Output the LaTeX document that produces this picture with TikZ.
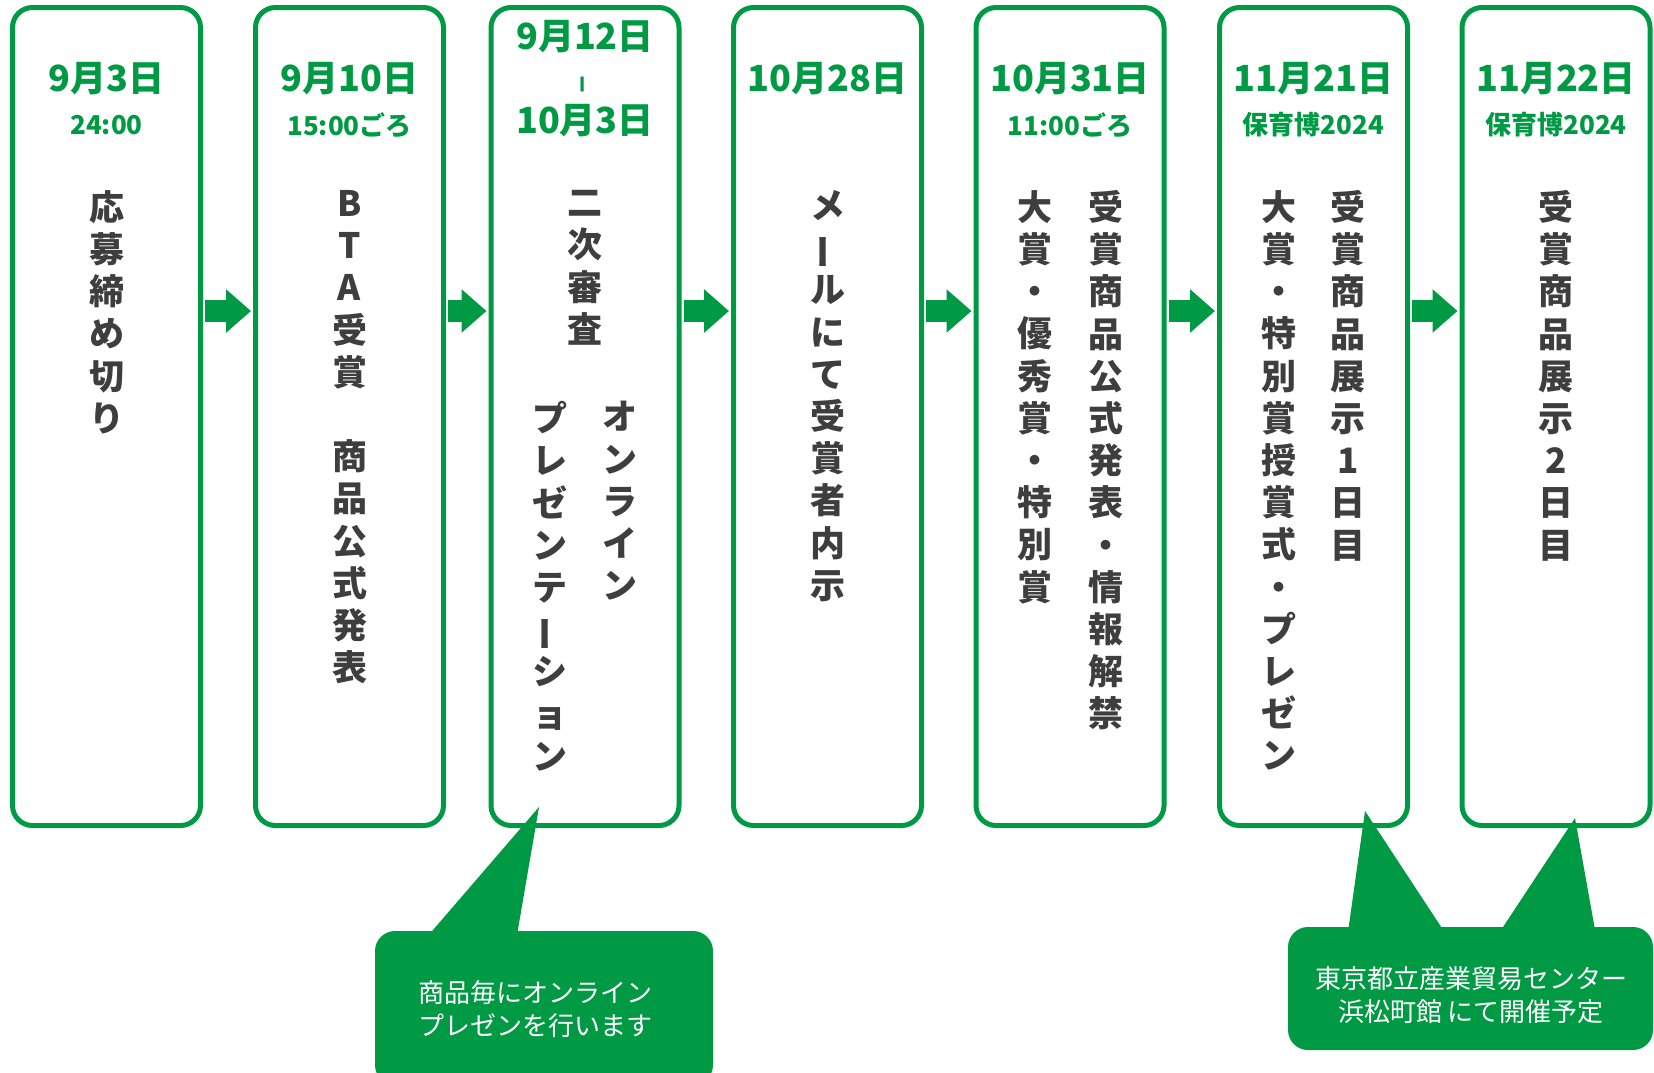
\documentclass[tikz,border=0pt]{standalone}
\usepackage{fontspec}
\setmainfont{Noto Sans CJK JP}
\usepackage{graphicx}
\usepackage{tikz}
\usetikzlibrary{arrows.meta,calc}

\definecolor{hgreen}{RGB}{0,154,68}
\definecolor{hgray}{RGB}{62,62,62}
\newcommand{\tbar}{\rotatebox[origin=c]{90}{ー}}

\begin{document}
\begin{tikzpicture}[x=0.5pt,y=-0.5pt,
    daybox/.style={draw=hgreen,line width=2.5pt,rounded corners=10pt,minimum width=94pt,minimum height=409pt,inner sep=0pt},
    datetext/.style={text=hgreen,font=\fontsize{18}{20}\selectfont\bfseries,inner sep=0pt},
    subtext/.style={text=hgreen,font=\fontsize{13}{15}\selectfont\bfseries,inner sep=0pt},
    tate/.style={text=hgray,font=\fontsize{17.5}{21.1}\selectfont\bfseries,align=center,anchor=north,inner sep=0pt},
    nextarrow/.style={hgreen,line width=11pt,-{Triangle[length=12.5pt,width=21pt]},shorten <=1pt,shorten >=1pt},
    callout/.style={fill=hgreen,rounded corners=10pt,inner sep=0pt},
    callouttext/.style={text=white,font=\fontsize{13}{16.5}\selectfont,inner sep=0pt}]
  \useasboundingbox (0,0) rectangle (1654,1072);

  % day boxes
  \node[daybox] (b1) at (106.5,416.5) {};
  \node[daybox] (b2) at (349.5,416.5) {};
  \node[daybox] (b3) at (585,416.5) {};
  \node[daybox] (b4) at (827.5,416.5) {};
  \node[daybox] (b5) at (1070,416.5) {};
  \node[daybox] (b6) at (1313.5,416.5) {};
  \node[daybox] (b7) at (1556,416.5) {};

  % dates
  \node[datetext] (d1) at (106.5,79) {9月3日};
  \node[subtext] (s1) at (106.5,125) {24:00};
  \node[datetext] (d2) at (349.5,79) {9月10日};
  \node[subtext] (s2) at (349.5,125) {15:00ごろ};
  \node[datetext] (d3a) at (585,37) {9月12日};
  \node[datetext,font=\fontsize{9}{10}\selectfont\bfseries] (d3b) at (585,84) {\tbar};
  \node[datetext] (d3c) at (585,121) {10月3日};
  \node[datetext] (d4) at (827.5,79) {10月28日};
  \node[datetext] (d5) at (1070,79) {10月31日};
  \node[subtext] (s5) at (1070,125) {11:00ごろ};
  \node[datetext] (d6) at (1313.5,79) {11月21日};
  \node[subtext] (s6) at (1313.5,125) {保育博2024};
  \node[datetext] (d7) at (1556,79) {11月22日};
  \node[subtext] (s7) at (1556,125) {保育博2024};

  % vertical texts
  \node[tate] (t1) at (107,190) {応\\募\\締\\め\\切\\り};
  \node[tate] (t2) at (349.5,190) {B\\T\\A\\受\\賞\\　\\商\\品\\公\\式\\発\\表};
  \node[tate] (t3a) at (585,190) {二\\次\\審\\査};
  \node[tate] (t3b) at (620,401) {オ\\ン\\ラ\\イ\\ン};
  \node[tate] (t3c) at (550,401) {プ\\レ\\ゼ\\ン\\テ\\\tbar\\シ\\ョ\\ン};
  \node[tate] (t4) at (828,190) {メ\\\tbar\\ル\\に\\て\\受\\賞\\者\\内\\示};
  \node[tate] (t5a) at (1105.5,190) {受\\賞\\商\\品\\公\\式\\発\\表\\・\\情\\報\\解\\禁};
  \node[tate] (t5b) at (1035,190) {大\\賞\\・\\優\\秀\\賞\\・\\特\\別\\賞};
  \node[tate] (t6a) at (1348,190) {受\\賞\\商\\品\\展\\示\\1\\日\\目};
  \node[tate] (t6b) at (1278.5,190) {大\\賞\\・\\特\\別\\賞\\授\\賞\\式\\・\\プ\\レ\\ゼ\\ン};
  \node[tate] (t7) at (1556,190) {受\\賞\\商\\品\\展\\示\\2\\日\\目};

  % arrows between days
  \coordinate (arrowrow) at (0,311);
  \foreach \a/\b in {b1/b2,b2/b3,b3/b4,b4/b5,b5/b6,b6/b7}
    \draw[nextarrow] (\a.east |- arrowrow) -- (\b.west |- arrowrow);

  % callouts
  \node[callout,minimum width=169pt,minimum height=77pt] (note1) at (544,1008) {};
  \node[callouttext,anchor=west,align=left] (note1text) at (418,1009) {商品毎にオンライン\\プレゼンを行います};
  \coordinate (tip1) at (539,807);
  \fill[hgreen] ($(note1.north west)+(57,1)$) -- (tip1) -- ($(note1.north west)+(143,1)$) -- cycle;

  \node[callout,minimum width=182.5pt,minimum height=61.5pt] (note2) at (1470.5,988.5) {};
  \node[callouttext,align=center] (note2text) at (1471,995) {東京都立産業貿易センター\\浜松町館 にて開催予定};
  \coordinate (tip2) at (1365,811);
  \coordinate (tip3) at (1575,818);
  \fill[hgreen] ($(note2.north west)+(61,1)$) -- (tip2) -- ($(note2.north west)+(154,1)$) -- cycle;
  \fill[hgreen] ($(note2.north west)+(215,1)$) -- (tip3) -- ($(note2.north west)+(307,1)$) -- cycle;
\end{tikzpicture}
\end{document}
